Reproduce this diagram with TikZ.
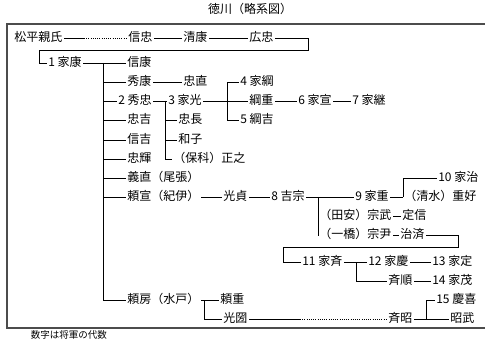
\documentclass[tikz,border=0pt]{standalone}
\usepackage{fontspec}
\setmainfont{Noto Sans CJK JP}

\begin{document}
\begin{tikzpicture}[
  x=1pt, y=-1pt,
  every node/.style = {anchor=west, inner sep=1.5pt, text height=9.5pt, text depth=2pt,
                       font=\fontsize{12}{12}\selectfont},
  every path/.style = {line width=0.6pt},
  frame/.style = {line width=1.1pt, black!70},
  dots/.style = {dash pattern=on 0.8pt off 1.4pt}
    ]
  \useasboundingbox (0,0) rectangle (485,342);

  % frame and title
  \node[anchor=center] (title) at (250,10) {徳川（略系図）};
  \coordinate (frametop) at (485,24);
  \coordinate (framecorner) at (7,328);
  \coordinate (framebottom) at (485,328);
  \draw[frame] (frametop) -| (framecorner) -- (framebottom);
  \node[font=\fontsize{9.5}{10}\selectfont, text height=7.5pt, text depth=1.5pt]
    (note) at (29,335) {数字は将軍の代数};

  % Matsudaira line
  \node (matsudaira) at (12.5,38) {松平親氏};
  \node (nobutada) at (126.5,38) {信忠};
  \node (kiyoyasu) at (181.5,38) {清康};
  \node (hirotada) at (247.5,38) {広忠};

  % Ieyasu and his sons
  \node (ieyasu) at (46.5,63) {1 家康};
  \node (nobuyasu) at (125.5,63) {信康};
  \node (hideyasu) at (125.5,82) {秀康};
  \node (tadanao) at (181.5,82) {忠直};
  \node (hidetada) at (116.5,101) {2 秀忠};
  \node (tadayoshi) at (125.5,120) {忠吉};
  \node (nobuyoshi) at (125.5,140) {信吉};
  \node (tadateru) at (125.5,159) {忠輝};
  \node (yoshinao) at (125.5,178) {義直（尾張）};
  \node (yorinobu) at (125.5,197) {頼宣（紀伊）};
  \node (yorifusa) at (125.5,300) {頼房（水戸）};

  % Hidetada line
  \node (iemitsu) at (166.5,101) {3 家光};
  \node (tadanaga) at (176.5,120) {忠長};
  \node (kazuko) at (176.5,140) {和子};
  \node (masayuki) at (171.5,159) {（保科）正之};
  \node (ietsuna) at (238.5,82) {4 家綱};
  \node (tsunashige) at (247.5,101) {綱重};
  \node (tsunayoshi) at (238.5,120) {5 綱吉};
  \node (ienobu) at (296.5,101) {6 家宣};
  \node (ietsugu) at (350.5,101) {7 家継};

  % Kii line
  \node (mitsusada) at (221.5,197) {光貞};
  \node (yoshimune) at (269.5,197) {8 吉宗};
  \node (ieshige) at (353.5,197) {9 家重};
  \node (ieharu) at (436.5,178) {10 家治};
  \node (shigeyoshi) at (402.5,197) {（清水）重好};
  \node (munetake) at (317.5,216) {（田安）宗武};
  \node (sadanobu) at (400.5,216) {定信};
  \node (munetada) at (317.5,235) {（一橋）宗尹};
  \node (harusada) at (398.5,235) {治済};
  \node (ienari) at (300.5,262) {11 家斉};
  \node (ieyoshi) at (366.5,262) {12 家慶};
  \node (iesada) at (430.5,262) {13 家定};
  \node (nariyuki) at (386.5,281) {斉順};
  \node (iemochi) at (430.5,281) {14 家茂};

  % Mito line
  \node (yorishige) at (218.5,300) {頼重};
  \node (mitsukuni) at (221.5,319) {光圀};
  \node (nariaki) at (386.5,319) {斉昭};
  \node (yoshinobu) at (434.5,300) {15 慶喜};
  \node (akitake) at (448.5,319) {昭武};

  % junctions
  \coordinate (dotstart) at (84,38);
  \coordinate (backright) at (308,50);
  \coordinate (backleft) at (39,50);
  \coordinate (trunk) at (103,63);
  \coordinate (hidejoint) at (165,101);
  \coordinate (mitsujoint) at (227,101);
  \coordinate (munejoint) at (318,197);
  \coordinate (shigejoint) at (403,197);
  \coordinate (haruright) at (458,247);
  \coordinate (haruleft) at (283,247);
  \coordinate (narijoint) at (356,262);
  \coordinate (fusajoint) at (204,300);
  \coordinate (dotstart2) at (300,319);
  \coordinate (akijoint) at (426,319);

  % connectors
  \draw (matsudaira) -- (dotstart);
  \draw[dots] (dotstart) -- (nobutada);
  \draw (nobutada) -- (kiyoyasu) -- (hirotada);
  \draw (hirotada.east) -| (backright) -- (backleft) |- (ieyasu.west);
  \draw (ieyasu) -- (nobuyasu);
  \draw (trunk) |- (hideyasu.west) (trunk) |- (hidetada.west)
        (trunk) |- (tadayoshi.west) (trunk) |- (nobuyoshi.west)
        (trunk) |- (tadateru.west) (trunk) |- (yoshinao.west)
        (trunk) |- (yorinobu.west) (trunk) |- (yorifusa.west);
  \draw (hideyasu) -- (tadanao);
  \draw (hidetada) -- (iemitsu);
  \draw (hidejoint) |- (tadanaga.west) (hidejoint) |- (kazuko.west)
        (hidejoint) |- (masayuki.west);
  \draw (iemitsu) -- (tsunashige);
  \draw (mitsujoint) |- (ietsuna.west) (mitsujoint) |- (tsunayoshi.west);
  \draw (tsunashige) -- (ienobu) -- (ietsugu);
  \draw (yorinobu) -- (mitsusada) -- (yoshimune) -- (ieshige);
  \draw (munejoint) |- (munetake.west) (munejoint) |- (munetada.west);
  \draw (ieshige) -- (shigeyoshi);
  \draw (shigejoint) |- (ieharu.west);
  \draw (munetake) -- (sadanobu);
  \draw (munetada) -- (harusada);
  \draw (harusada.east) -| (haruright) -- (haruleft) |- (ienari.west);
  \draw (ienari) -- (ieyoshi) -- (iesada);
  \draw (narijoint) |- (nariyuki.west);
  \draw (nariyuki) -- (iemochi);
  \draw (yorifusa) -- (yorishige);
  \draw (fusajoint) |- (mitsukuni.west);
  \draw (mitsukuni) -- (dotstart2);
  \draw[dots] (dotstart2) -- (nariaki);
  \draw (nariaki) -- (akitake);
  \draw (akijoint) |- (yoshinobu.west);
\end{tikzpicture}
\end{document}
